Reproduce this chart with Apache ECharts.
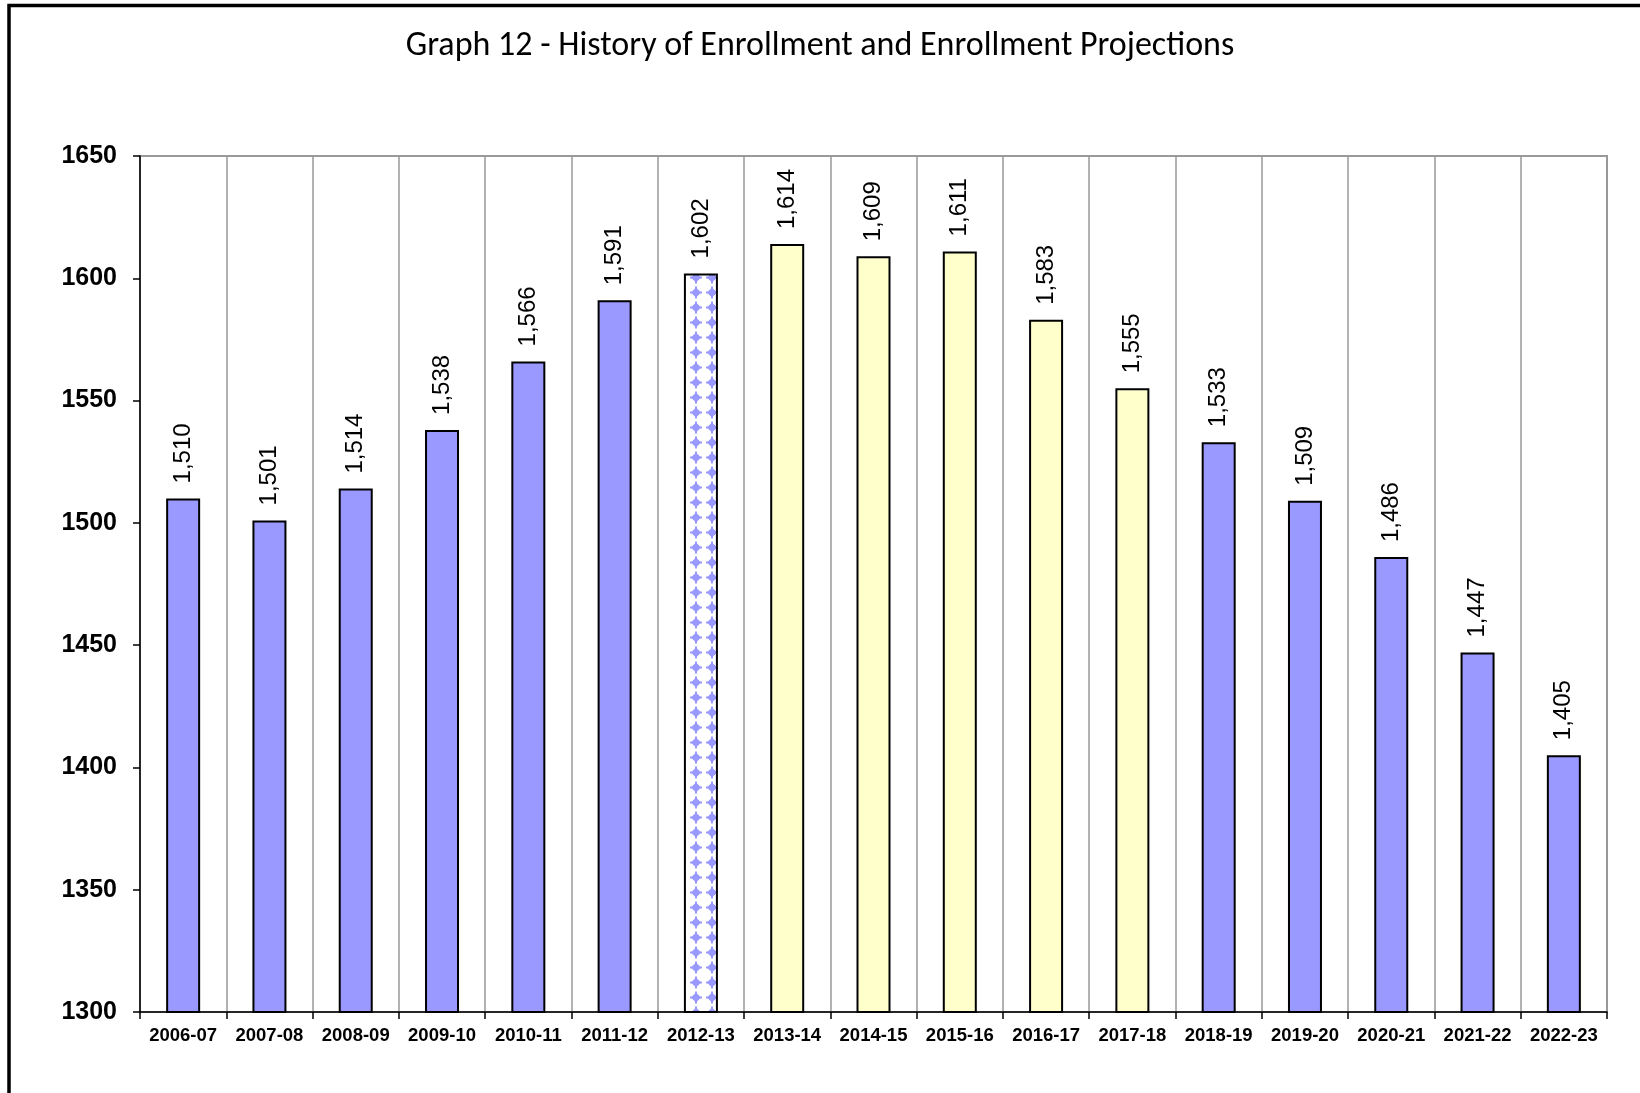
<!DOCTYPE html>
<html>
<head>
<meta charset="utf-8">
<title>Graph 12</title>
<script src="https://cdn.jsdelivr.net/npm/echarts@6/dist/echarts.min.js"></script>
<style>
    html, body { margin: 0; padding: 0; background: #fff; }
    #chart { width: 1640px; height: 1093px; }
</style>
</head>
<body>
<div id="chart"></div>
<script>
    // school years on the x axis
    const years = ['2006-07', '2007-08', '2008-09', '2009-10', '2010-11', '2011-12', '2012-13',
        '2013-14', '2014-15', '2015-16', '2016-17', '2017-18', '2018-19', '2019-20',
        '2020-21', '2021-22', '2022-23']
    // enrollment per year
    const enrollment = [1510, 1501, 1514, 1538, 1566, 1591, 1602, 1614, 1609, 1611, 1583, 1555,
        1533, 1509, 1486, 1447, 1405]
    // how each bar is filled: history / current (patterned) / projection
    const barKind = ['hist', 'hist', 'hist', 'hist', 'hist', 'hist', 'current',
        'proj', 'proj', 'proj', 'proj', 'proj', 'hist', 'hist', 'hist', 'hist', 'hist']
    const yTicks = [1300, 1350, 1400, 1450, 1500, 1550, 1600, 1650]

    // little tile for the dotted bar
    function makePattern() {
        const c = document.createElement('canvas')
        c.width = 16
        c.height = 15
        const ctx = c.getContext('2d')
        ctx.fillStyle = '#ffffff'
        ctx.fillRect(0, 0, 16, 15)
        ctx.fillStyle = '#9999ff'
        // diamond blob with small spikes, white gap around it
        ctx.beginPath()
        ctx.moveTo(8, 2.5)
        ctx.lineTo(13, 7.5)
        ctx.lineTo(8, 12.5)
        ctx.lineTo(3, 7.5)
        ctx.closePath()
        ctx.fill()
        ctx.fillRect(5, 5, 6, 5)
        ctx.fillRect(7, 1.5, 2, 12)
        ctx.fillRect(2, 6.5, 12, 2)
        return c
    }

    const fills = {
        hist: '#9999ff',
        proj: '#ffffcc',
        current: { image: makePattern(), repeat: 'repeat' }
    }

    const chart = echarts.init(document.getElementById('chart'))
    const option = {
        backgroundColor: '#ffffff',
        animation: false,
        title: {
            text: 'Graph 12 - History of Enrollment and Enrollment Projections',
            left: 'center',
            top: 24,
            textStyle: {
                fontFamily: 'Carlito, Calibri, Lato, sans-serif',
                fontWeight: 'normal',
                fontSize: 34,
                color: '#000'
            }
        },
        graphic: [{
            type: 'rect',
            shape: { x: 9, y: 5.5, width: 1700, height: 1200 },
            style: { fill: null, stroke: '#000', lineWidth: 3.5 },
            silent: true
        }],
        grid: {
            left: 140,
            top: 156,
            right: 33,
            bottom: 81,
            show: true,
            borderColor: '#999999',
            borderWidth: 2
        },
        xAxis: {
            type: 'category',
            data: years,
            boundaryGap: true,
            axisLine: { lineStyle: { color: '#000', width: 1.5 } },
            axisTick: { show: true, length: 7, lineStyle: { color: '#000', width: 1.5 } },
            splitLine: { show: true, lineStyle: { color: '#999999', width: 1.5 } },
            axisLabel: {
                interval: 0,
                margin: 14,
                color: '#000',
                fontFamily: 'Arial, Liberation Sans, sans-serif',
                fontWeight: 'bold',
                fontSize: 18.5
            }
        },
        yAxis: {
            type: 'value',
            min: yTicks[0],
            max: yTicks[yTicks.length - 1],
            interval: 50,
            axisLine: { show: true, lineStyle: { color: '#000', width: 1.5 } },
            axisTick: { show: true, length: 7, lineStyle: { color: '#000', width: 1.5 } },
            splitLine: { show: false },
            axisLabel: {
                margin: 23,
                color: '#000',
                fontFamily: 'Arial, Liberation Sans, sans-serif',
                fontWeight: 'bold',
                fontSize: 25,
                formatter: v => String(v)
            }
        },
        series: [{
            type: 'bar',
            barWidth: 34,
            data: enrollment.map((v, i) => ({
                value: v,
                itemStyle: { color: fills[barKind[i]] }
            })),
            itemStyle: { borderColor: '#000', borderWidth: 2 },
            label: {
                show: true,
                position: 'top',
                rotate: 90,
                align: 'left',
                verticalAlign: 'middle',
                distance: 15,
                color: '#000',
                fontFamily: 'Arial, Liberation Sans, sans-serif',
                fontSize: 24,
                formatter: p => p.value.toLocaleString('en-US')
            }
        }]
    }
    chart.setOption(option)
</script>
</body>
</html>
